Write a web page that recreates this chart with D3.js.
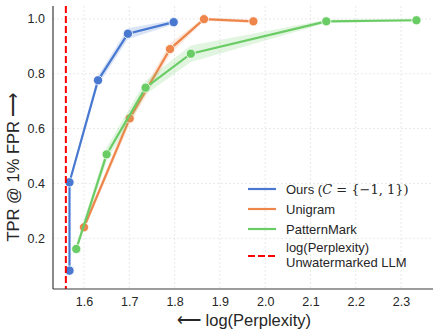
<!DOCTYPE html>
<html>
<head>
<meta charset="utf-8">
<script src="https://d3js.org/d3.v7.min.js"></script>
<style>
  body { margin: 0; background: #fff; }
  svg text { font-family: "Liberation Sans", Arial, sans-serif; fill: #262626; }
  .grid line { stroke: #e3e3e3; stroke-dasharray: 2,2; stroke-width: 0.8; }
</style>
</head>
<body>
<svg id="chart" width="439" height="336"></svg>
<script>
// dados
var oursX = [1.568, 1.568, 1.631, 1.697, 1.798];
var oursY = [0.082, 0.404, 0.776, 0.946, 0.988];
var oursBand = [0.004, 0.01, 0.018, 0.02, 0.008];

var uniX = [1.600, 1.701, 1.790, 1.865, 1.974];
var uniY = [0.240, 0.637, 0.890, 0.999, 0.991];
var uniBand = [0.012, 0.02, 0.02, 0.006, 0.006];

var patX = [1.583, 1.650, 1.736, 1.836, 2.135, 2.334];
var patY = [0.161, 0.506, 0.749, 0.873, 0.991, 0.995];
var patBand = [0.015, 0.025, 0.025, 0.03, 0.006, 0.004];

var unwatermarked = 1.56;

var xTicks = [1.6, 1.7, 1.8, 1.9, 2.0, 2.1, 2.2, 2.3];
var yTicks = [0.2, 0.4, 0.6, 0.8, 1.0];

var series = [
  {nome: "Ours", xs: oursX, ys: oursY, band: oursBand, cor: "#4878d0"},
  {nome: "Unigram", xs: uniX, ys: uniY, band: uniBand, cor: "#ee854a"},
  {nome: "PatternMark", xs: patX, ys: patY, band: patBand, cor: "#6acc64"}
];

var margin = {top: 6, right: 6, bottom: 47, left: 53};
var svg = d3.select("#chart");
var largura = 439 - margin.left - margin.right,
    altura = 336 - margin.top - margin.bottom;

var x = d3.scaleLinear().domain([1.5316, 2.3706]).range([0, largura]);
var y = d3.scaleLinear().domain([0.015, 1.047]).range([altura, 0]);

var g = svg.append("g").attr("transform", "translate(" + margin.left + "," + margin.top + ")");

// grade
g.append("g").attr("class", "grid")
  .selectAll("line").data(xTicks).enter().append("line")
  .attr("x1", d => x(d)).attr("x2", d => x(d)).attr("y1", 0).attr("y2", altura);
g.append("g").attr("class", "grid")
  .selectAll("line").data(yTicks).enter().append("line")
  .attr("y1", d => y(d)).attr("y2", d => y(d)).attr("x1", 0).attr("x2", largura);

// bandas, linhas e pontos
series.forEach(function(s) {
  var pts = s.xs.map((v, i) => ({x: v, y: s.ys[i], b: s.band[i]}));
  g.append("path").datum(pts)
    .attr("fill", s.cor).attr("opacity", 0.2)
    .attr("d", d3.area().x(d => x(d.x)).y0(d => y(d.y - d.b)).y1(d => y(d.y + d.b)));
  g.append("path").datum(pts)
    .attr("fill", "none").attr("stroke", s.cor).attr("stroke-width", 2.2)
    .attr("d", d3.line().x(d => x(d.x)).y(d => y(d.y)));
  g.selectAll(null).data(pts).enter().append("circle")
    .attr("cx", d => x(d.x)).attr("cy", d => y(d.y)).attr("r", 4.6)
    .attr("fill", s.cor).attr("stroke", "#fff").attr("stroke-width", 0.8);
});

// linha vermelha
g.append("line")
  .attr("x1", x(unwatermarked)).attr("x2", x(unwatermarked))
  .attr("y1", 0).attr("y2", altura)
  .attr("stroke", "#ff0000").attr("stroke-width", 2).attr("stroke-dasharray", "7,3");

// eixos
var eixoX = g.append("g").attr("transform", "translate(0," + altura + ")")
  .call(d3.axisBottom(x).tickValues(xTicks).tickSize(0).tickPadding(8).tickFormat(d3.format(".1f")));
var eixoY = g.append("g")
  .call(d3.axisLeft(y).tickValues(yTicks).tickSize(0).tickPadding(8).tickFormat(d3.format(".1f")));
[eixoX, eixoY].forEach(function(e) {
  e.select(".domain").attr("stroke", "#3a3a3a").attr("stroke-width", 1.2);
  e.selectAll("text").style("font-size", "12.5px").style("font-family", "'Liberation Sans', Arial, sans-serif").attr("fill", "#262626");
});
eixoX.select(".domain").attr("d", "M0,0H" + largura);
eixoY.select(".domain").attr("d", "M0,0V" + altura);

// rotulos
svg.append("text")
  .attr("x", 244).attr("y", 326).attr("text-anchor", "middle")
  .style("font-size", "16.5px").text("\u27F5 log(Perplexity)");
svg.append("text")
  .attr("transform", "translate(19,167) rotate(-90)").attr("text-anchor", "middle")
  .style("font-size", "16.5px").text("TPR @ 1% FPR \u27F6");

// legenda
var leg = svg.append("g").attr("transform", "translate(248,189)");
var itens = [
  {cor: "#4878d0", dy: 0}, {cor: "#ee854a", dy: 20}, {cor: "#6acc64", dy: 40}
];
itens.forEach(function(it) {
  leg.append("line").attr("x1", 0).attr("x2", 28).attr("y1", it.dy).attr("y2", it.dy)
    .attr("stroke", it.cor).attr("stroke-width", 2.2);
});
var t0 = leg.append("text").attr("x", 38).attr("y", 4.5).style("font-size", "13px");
t0.append("tspan").text("Ours (");
t0.append("tspan").style("font-family", "'DejaVu Serif', serif").style("font-style", "italic").text("C");
t0.append("tspan").style("font-family", "'DejaVu Serif', serif").text(" = {\u22121, 1})");
leg.append("text").attr("x", 38).attr("y", 24.5).style("font-size", "13px").text("Unigram");
leg.append("text").attr("x", 38).attr("y", 44.5).style("font-size", "13px").text("PatternMark");
leg.append("line").attr("x1", 0).attr("x2", 28).attr("y1", 67).attr("y2", 67)
  .attr("stroke", "#ff0000").attr("stroke-width", 2).attr("stroke-dasharray", "7,3");
leg.append("text").attr("x", 38).attr("y", 63).style("font-size", "13px").text("log(Perplexity)");
leg.append("text").attr("x", 38).attr("y", 78).style("font-size", "13px").text("Unwatermarked LLM");
</script>
</body>
</html>
